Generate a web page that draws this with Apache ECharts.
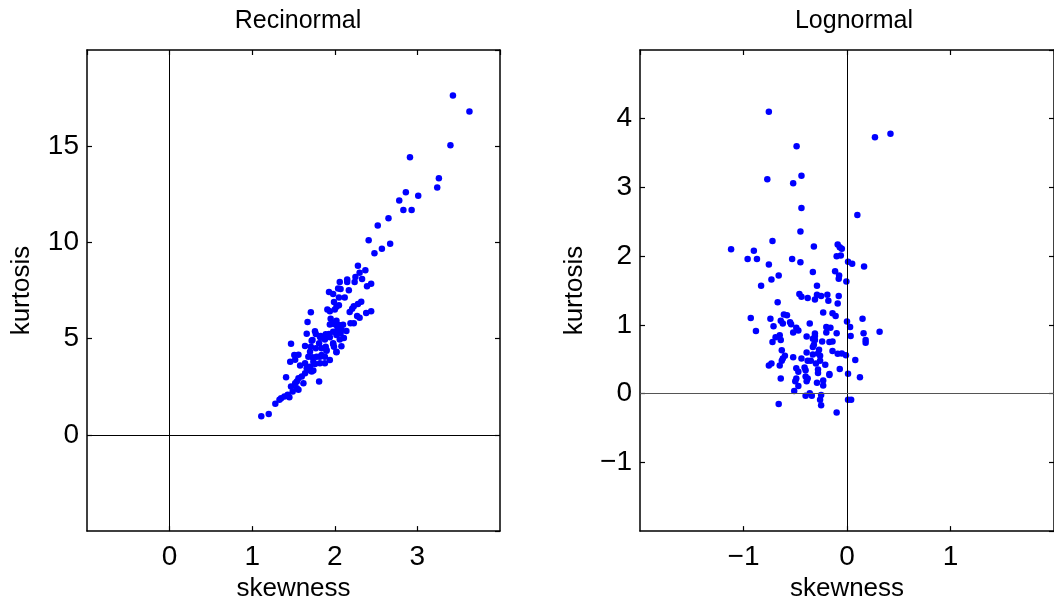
<!DOCTYPE html>
<html>
<head>
<meta charset="utf-8">
<script src="https://cdn.jsdelivr.net/npm/echarts@6/dist/echarts.min.js"></script>
<style>html,body{margin:0;padding:0;background:#fff}#c{width:1054px;height:607px}</style>
</head>
<body>
<div id="c"></div>
<script>
// Recinormal panel
const recSkew = [3.43,3.63,3.40,2.91,3.26,3.24,2.86,2.78,3.01,2.83,2.93,2.65,2.52,2.41,2.67,2.57,2.48,
2.28,2.37,2.30,2.25,2.33,2.44,2.39,2.15,2.15,2.06,2.24,2.04,2.07,2.17,1.93,1.98,2.05,2.12,1.99,2.02,2.05,2.00,1.91,1.94,
2.32,2.28,2.23,2.21,2.18,2.44,2.38,2.27,2.30,1.71,1.67,1.95,2.02,1.99,1.94,2.05,2.10,1.97,2.03,2.19,2.23,
1.76,1.77,1.83,1.89,1.93,1.98,2.04,2.07,2.11,2.06,2.08,2.14,1.66,1.82,1.88,1.94,2.02,1.47,1.72,1.81,1.83,1.73,1.98,
1.64,1.71,1.77,1.84,1.89,1.90,1.98,1.99,2.08,2.02,1.51,1.56,1.52,1.46,1.70,1.68,1.73,1.78,1.82,1.84,1.88,1.90,2.02,
1.94,1.88,1.82,1.74,1.58,1.64,1.66,1.70,1.76,1.72,1.68,1.64,1.60,1.74,1.81,1.56,1.62,1.52,1.54,1.47,1.54,1.56,1.41,
1.49,1.43,1.39,1.35,1.45,1.33,1.28,1.20,1.11];
const recKurt = [17.63,16.81,15.05,14.43,13.34,12.85,12.61,12.18,12.42,11.68,11.68,11.26,10.88,10.12,9.93,9.67,9.44,
8.79,8.56,8.42,8.21,8.10,7.85,7.72,8.08,7.94,7.94,7.94,7.61,7.58,7.52,7.42,7.32,7.14,7.14,6.90,6.66,6.73,6.52,6.52,6.42,
6.92,6.80,6.69,6.55,6.38,6.43,6.33,6.18,6.09,6.37,5.86,6.04,5.93,5.76,5.74,5.71,5.72,5.83,5.62,5.80,5.80,
5.38,5.24,5.14,5.23,5.24,5.36,5.43,5.27,5.03,4.96,5.45,5.40,5.26,5.10,4.96,5.07,5.19,4.74,4.89,4.76,5.05,4.93,4.76,
4.62,4.58,4.50,4.50,4.58,4.37,4.72,4.58,4.60,4.29,4.15,4.17,3.91,3.80,4.32,4.06,4.03,4.06,4.06,4.15,4.06,4.41,4.32,
3.89,3.72,3.72,3.80,3.60,3.72,3.46,3.54,3.68,3.29,3.37,3.20,3.03,3.34,2.78,2.94,2.68,2.68,2.77,2.51,2.42,2.34,2.99,
2.25,2.08,1.99,1.90,1.95,1.82,1.62,1.09,0.97];

// Lognormal panel
const logSkew = [-0.755,0.42,0.27,-0.487,-0.77,-0.44,-0.52,-0.44,0.10,-0.45,-0.72,-1.12,-0.90,-0.96,-0.87,-0.755,-0.53,-0.45,
-0.32,-0.09,-0.07,-0.05,-0.10,-0.06,0.01,0.05,0.165,-0.33,-0.115,-0.076,-0.08,-0.006,-0.66,-0.73,-0.83,-0.29,
-0.46,-0.44,-0.38,-0.31,-0.29,-0.25,-0.19,-0.18,-0.08,-0.09,-0.67,-0.23,-0.14,-0.11,-0.93,-0.74,-0.61,-0.58,-0.64,
-0.62,-0.55,-0.54,-0.71,-0.88,-0.36,-0.49,-0.47,-0.52,0.00,0.03,0.035,0.15,0.16,0.18,0.18,0.315,-0.20,-0.16,-0.20,
-0.10,-0.14,-0.17,-0.31,-0.31,-0.33,-0.39,-0.31,-0.24,-0.32,-0.65,-0.64,-0.69,-0.72,-0.33,-0.27,-0.28,-0.39,-0.33,
-0.26,-0.63,-0.60,-0.62,-0.63,-0.65,-0.73,-0.755,-0.52,-0.44,-0.14,-0.09,-0.05,-0.01,0.08,-0.38,-0.35,-0.30,-0.26,
-0.21,-0.07,0.01,0.125,-0.49,-0.47,-0.41,-0.40,-0.28,-0.28,-0.17,-0.17,-0.64,-0.49,-0.50,-0.40,-0.38,-0.39,-0.29,
-0.23,-0.23,-0.47,-0.51,-0.40,-0.36,-0.34,-0.25,-0.26,-0.25,0.01,0.04,-0.66,-0.10];
const logKurt = [4.10,3.78,3.73,3.60,3.12,3.17,3.06,2.70,2.60,2.36,2.22,2.10,2.08,1.96,1.96,1.88,1.96,1.91,
2.14,2.17,2.13,2.11,2.00,2.01,1.92,1.89,1.85,1.77,1.78,1.72,1.67,1.63,1.72,1.66,1.57,1.57,
1.45,1.41,1.39,1.37,1.44,1.42,1.44,1.35,1.42,1.31,1.33,1.18,1.17,1.13,1.10,1.09,1.15,1.14,1.06,
1.02,1.04,1.01,0.98,0.91,1.02,0.96,0.92,0.89,1.05,0.97,0.84,1.09,0.88,0.78,0.74,0.90,0.97,0.96,0.89,
0.88,0.76,0.75,0.875,0.84,0.80,0.83,0.78,0.76,0.71,0.85,0.78,0.82,0.75,0.68,0.64,0.585,0.60,0.57,
0.55,0.63,0.55,0.51,0.48,0.41,0.44,0.41,0.53,0.51,0.62,0.58,0.585,0.56,0.49,0.48,0.48,0.44,0.48,
0.42,0.36,0.29,0.24,0.37,0.32,0.38,0.34,0.35,0.30,0.285,0.27,0.22,0.22,0.18,0.25,0.22,0.18,0.16,
0.19,0.12,0.11,0.04,-0.03,0.005,-0.03,-0.02,-0.09,-0.17,-0.09,-0.09,-0.15,-0.275];

const titles = ['Recinormal', 'Lognormal'];
const xName = 'skewness', yName = 'kurtosis';

const zip = (a, b) => a.map((v, i) => [v, b[i]]);
const fmt = v => String(v).replace('-', '\u2212');
const FONT = 'Liberation Sans, Arial, Helvetica, sans-serif';

function axesFor(gi, xr, yr, xi, yi) {
  const common = {
    gridIndex: gi, type: 'value', splitLine: {show: false},
    axisLine: {show: true, onZero: false, lineStyle: {color: '#000', width: 1.5}},
    axisTick: {show: true, inside: true, length: 5, lineStyle: {color: '#000', width: 1.2}}
  };
  const x = [
    Object.assign({}, common, {position: 'bottom', min: xr[0], max: xr[1], interval: xi,
      name: xName, nameLocation: 'middle', nameGap: 44,
      nameTextStyle: {fontFamily: FONT, fontSize: 26, color: '#000'},
      axisLabel: {show: true, showMinLabel: false, showMaxLabel: false, margin: 12,
        fontFamily: FONT, fontSize: 28, color: '#000', formatter: fmt}}),
    Object.assign({}, common, {position: 'top', min: xr[0], max: xr[1], interval: xi, axisLabel: {show: false}})
  ];
  const y = [
    Object.assign({}, common, {position: 'left', min: yr[0], max: yr[1], interval: yi,
      name: yName, nameLocation: 'middle', nameGap: 52, nameRotate: 90,
      nameTextStyle: {fontFamily: FONT, fontSize: 26, color: '#000'},
      axisLabel: {show: true, showMinLabel: false, showMaxLabel: false, margin: 8,
        fontFamily: FONT, fontSize: 28, color: '#000', formatter: fmt}}),
    Object.assign({}, common, {position: 'right', min: yr[0], max: yr[1], interval: yi, axisLabel: {show: false}})
  ];
  return {x, y};
}

const a0 = axesFor(0, [-1, 4], [-5, 20], 1, 5);
const a1 = axesFor(1, [-2, 2], [-2, 5], 1, 1);

function series(xi, yi, data, hColor) {
  return {
    type: 'scatter', xAxisIndex: xi, yAxisIndex: yi, data: data,
    symbol: 'circle', symbolSize: 6.5, itemStyle: {color: '#0000ff', opacity: 1},
    silent: true, animation: false,
    markLine: {
      silent: true, symbol: ['none', 'none'], label: {show: false}, animation: false,
      data: [
        {xAxis: 0, lineStyle: {color: '#000', width: 1, type: 'solid'}},
        {yAxis: 0, lineStyle: {color: hColor, width: 1, type: 'solid'}}
      ]
    }
  };
}

const chart = echarts.init(document.getElementById('c'), null, {renderer: 'canvas'});
chart.setOption({
  backgroundColor: '#fff',
  animation: false,
  title: [
    {text: titles[0], left: 293, top: 4, textAlign: 'center',
      textStyle: {fontFamily: FONT, fontSize: 25, fontWeight: 'normal', color: '#000'}},
    {text: titles[1], left: 849, top: 4, textAlign: 'center',
      textStyle: {fontFamily: FONT, fontSize: 25, fontWeight: 'normal', color: '#000'}}
  ],
  grid: [
    {left: 87, top: 50, width: 413, height: 482},
    {left: 640, top: 50, width: 421, height: 482}
  ],
  xAxis: [a0.x[0], a0.x[1], a1.x[0], a1.x[1]],
  yAxis: [a0.y[0], a0.y[1], a1.y[0], a1.y[1]],
  series: [
    series(0, 0, zip(recSkew, recKurt), '#000'),
    series(2, 2, zip(logSkew, logKurt), '#555')
  ]
});
</script>
</body>
</html>
